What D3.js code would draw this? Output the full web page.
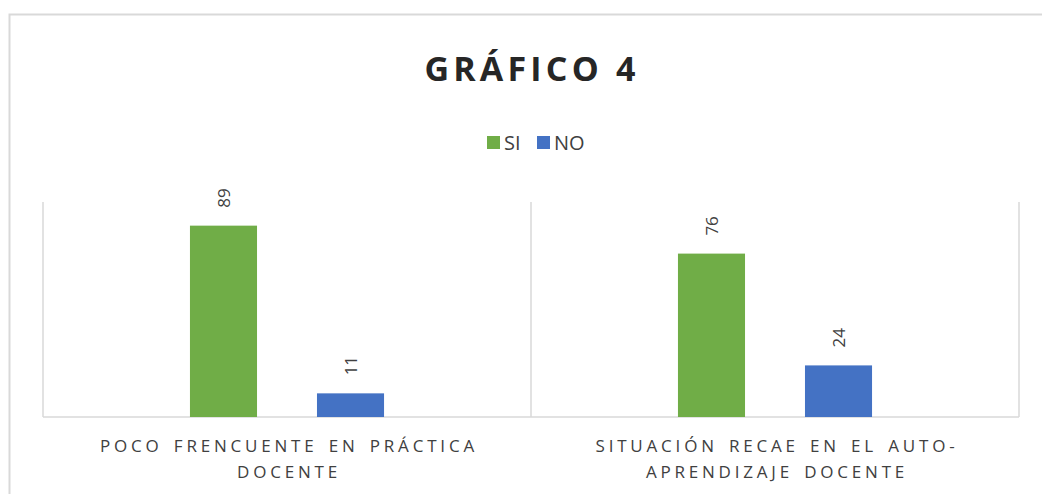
<!DOCTYPE html>
<html>
<head>
<meta charset="utf-8">
<script src="https://cdn.jsdelivr.net/npm/d3@7"></script>
<style>
  body { margin: 0; background: #fff; }
  text { font-family: "Open Sans", "Noto Sans", sans-serif; fill: #262626; }
</style>
</head>
<body>
<div id="chart"></div>
<script>
var categories = [
    ['POCO FRENCUENTE EN PRÁCTICA', 'DOCENTE'],
    ['SITUACIÓN RECAE EN EL AUTO-', 'APRENDIZAJE DOCENTE']
];
var seriesNames = ['SI', 'NO'];
var siValues = [89, 76];
var noValues = [11, 24];
var colors = ['#70ad47', '#4472c4'];

var width = 1042, height = 494;
var plot = { left: 43, right: 1019, top: 202, bottom: 417 };

var svg = d3.select('#chart').append('svg')
    .attr('width', width)
    .attr('height', height);

// outer chart border (cut off at right/bottom like the picture)
svg.append('rect')
    .attr('x', 9.5).attr('y', 14.5)
    .attr('width', 1060).attr('height', 500)
    .attr('fill', 'none')
    .attr('stroke', '#d9d9d9')
    .attr('stroke-width', 2);

svg.append('text')
    .attr('x', 532).attr('y', 81)
    .attr('text-anchor', 'middle')
    .style('font-size', '34px')
    .style('font-weight', 'bold')
    .style('letter-spacing', '4.2px')
    .text('GRÁFICO 4');

var x0 = d3.scaleBand()
    .domain(d3.range(categories.length))
    .range([plot.left, plot.right]);

var x1 = d3.scaleBand()
    .domain(seriesNames)
    .range([0, x0.bandwidth()])
    .paddingInner(0.472)
    .paddingOuter(1.157);

var y = d3.scaleLinear()
    .domain([0, 100])
    .range([plot.bottom, plot.top]);

// category separators
var seps = [plot.left].concat(d3.range(categories.length).map(function (i) { return x0(i) + x0.bandwidth(); }));
svg.selectAll('.sep').data(seps).enter().append('line')
    .attr('x1', function (d) { return d; })
    .attr('x2', function (d) { return d; })
    .attr('y1', plot.top)
    .attr('y2', plot.bottom)
    .style('stroke', '#d9d9d9')
    .style('stroke-width', '1.5px');

svg.append('line')
    .attr('x1', plot.left).attr('x2', plot.right)
    .attr('y1', plot.bottom).attr('y2', plot.bottom)
    .style('stroke', '#d9d9d9')
    .style('stroke-width', '1.5px');

var series = [siValues, noValues];
series.forEach(function (vals, s) {
    var g = svg.append('g');
    g.selectAll('rect').data(vals).enter().append('rect')
        .attr('x', function (d, i) { return x0(i) + x1(seriesNames[s]); })
        .attr('y', function (d) { return y(d); })
        .attr('width', x1.bandwidth())
        .attr('height', function (d) { return plot.bottom - y(d); })
        .attr('fill', colors[s]);

    g.selectAll('text').data(vals).enter().append('text')
        .attr('transform', function (d, i) {
            var cx = x0(i) + x1(seriesNames[s]) + x1.bandwidth() / 2;
            return 'translate(' + cx + ',' + (y(d) - 18) + ') rotate(-90)';
        })
        .attr('dominant-baseline', 'central')
        .style('font-size', '17px')
        .style('fill', '#404040')
        .text(function (d) { return d; });
});

// legend
var legend = svg.append('g');
var legX = [487, 537];
seriesNames.forEach(function (name, i) {
    legend.append('rect')
        .attr('x', legX[i]).attr('y', 136)
        .attr('width', 13).attr('height', 13)
        .attr('fill', colors[i]);
    legend.append('text')
        .attr('x', legX[i] + 17).attr('y', 150)
        .style('font-size', '20px')
        .style('fill', '#404040')
        .text(name);
});

// category labels
categories.forEach(function (lines, i) {
    var cx = x0(i) + x0.bandwidth() / 2;
    lines.forEach(function (line, j) {
        svg.append('text')
            .attr('x', cx + 2)
            .attr('y', 452 + j * 26)
            .attr('text-anchor', 'middle')
            .style('font-size', '17px')
            .style('letter-spacing', '3.8px')
            .style('word-spacing', '3px')
            .style('fill', '#404040')
            .text(line);
    });
});
</script>
</body>
</html>
